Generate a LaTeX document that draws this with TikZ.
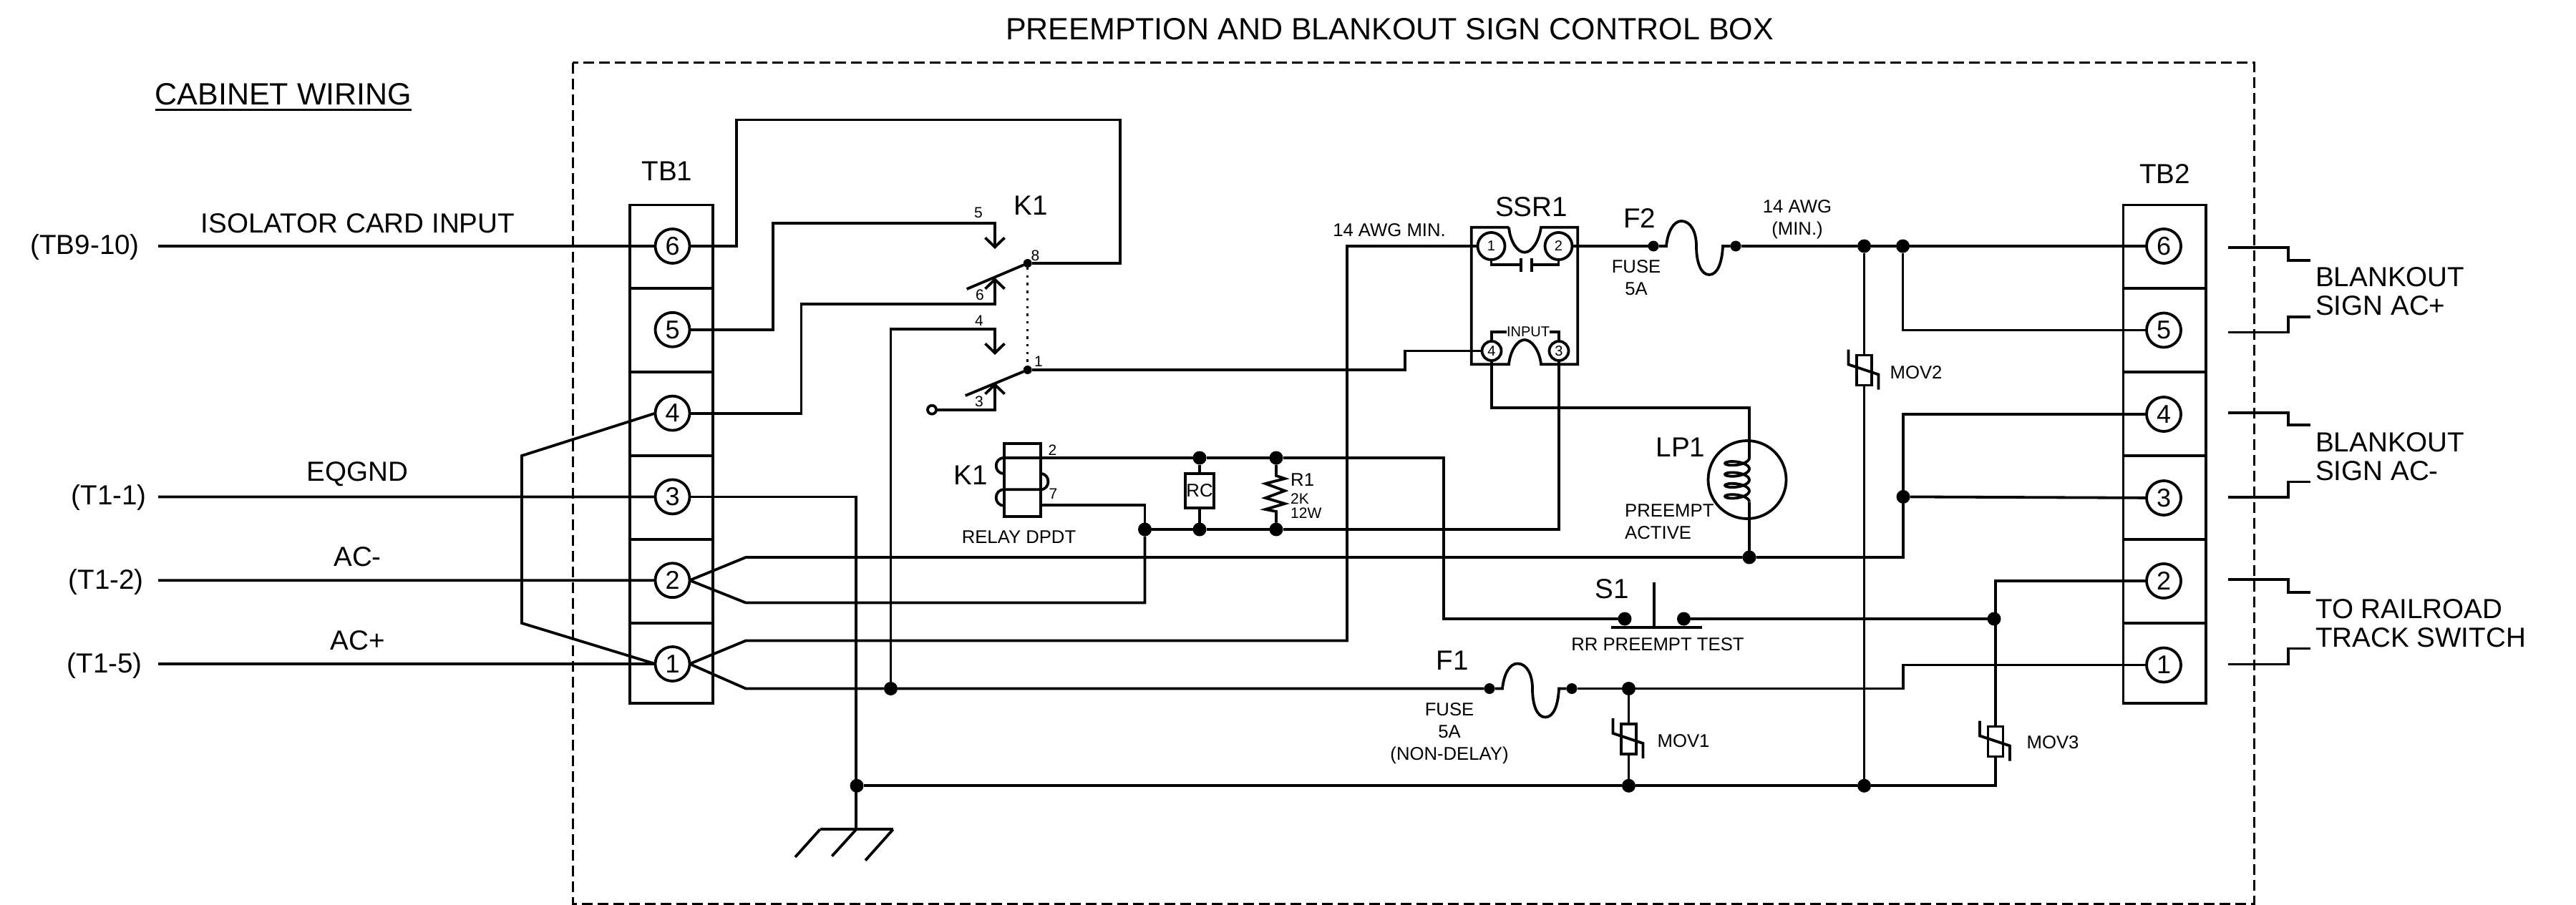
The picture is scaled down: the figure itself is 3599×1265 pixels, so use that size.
\documentclass[tikz,border=0pt]{standalone}
\usepackage{fontspec}
\setmainfont{Liberation Sans}
\usetikzlibrary{positioning,arrows.meta}

\newcommand{\fuselink}[2]{\draw[wire, shift={(#1.center)}] (#1) -- (18,0) .. controls (20,-20) and (28,-35) .. (39,-35) .. controls (52,-35) and (60,-20) .. (60,0) .. controls (60,22) and (66,40) .. (78,40) .. controls (90,40) and (96,22) .. (97,0) -- (#2);}
\newcommand{\movslash}[1]{\draw[wire, shift={(#1.center)}] (-22,-29) -- (-22,-8) -- (20,6) -- (20,27);}

\begin{document}
\begin{tikzpicture}[x=1pt,y=-1pt]
\tikzstyle{wire}=[line width=3.8pt]
\tikzstyle{frame}=[line width=3pt, dash pattern=on 15pt off 7pt]
\tikzstyle{contact}=[wire, -{Straight Barb[length=13pt,width=27pt]}]
\tikzstyle{term}=[circle, minimum size=48pt, inner sep=0pt, outer sep=0pt, draw=black, line width=3.8pt, font=\fontsize{36}{36}\selectfont]
\tikzstyle{ssrbig}=[term, minimum size=38pt, font=\fontsize{20}{20}\selectfont]
\tikzstyle{ssrsmall}=[term, minimum size=27pt, font=\fontsize{20}{20}\selectfont]
\tikzstyle{dot}=[circle, fill=black, minimum size=19pt, inner sep=0pt, outer sep=0pt]
\tikzstyle{smalldot}=[dot, minimum size=12pt]
\tikzstyle{fusedot}=[dot, minimum size=15pt]
\tikzstyle{movbody}=[rectangle, draw=black, line width=3.8pt, minimum width=21pt, minimum height=42pt, inner sep=0pt, outer sep=0pt]
\tikzstyle{big}=[inner sep=0pt, align=center, font=\fontsize{38.6}{40}\selectfont]
\tikzstyle{head}=[inner sep=0pt, font=\fontsize{43}{43}\selectfont]
\tikzstyle{note}=[inner sep=0pt, align=center, font=\fontsize{25.7}{31}\selectfont]
\tikzstyle{pin}=[inner sep=0pt, font=\fontsize{21}{21}\selectfont]
\useasboundingbox (0,0) rectangle (3599,1265);

% box and terminal strips
\draw[frame] (800,88) rectangle (3149,1263);
\draw[wire] (880,286.5) rectangle (996,983);
\draw[wire] (2966.5,286.5) rectangle (3082,983);
\foreach \y in {403,520,637,754,871} {
  \draw[wire] (880,\y) -- (996,\y);
  \draw[wire] (2966.5,\y) -- (3082,\y);
}

% texts
\node[head] (title) at (1941.5,41) {PREEMPTION AND BLANKOUT SIGN CONTROL BOX};
\node[head] (cab) at (396,132) {CABINET WIRING};
\draw[wire] ([yshift=-6pt]cab.south west) -- ([yshift=-6pt]cab.south east);
\node[big] (tb1) at (932,239) {TB1};
\node[big] (tb2) at (3024.5,243) {TB2};
\node[big] (isol) at (500,312) {ISOLATOR CARD INPUT};
\node[big] (eqgnd) at (499.5,662.5) {EQGND};
\node[big] (acm) at (499.5,778.5) {AC-};
\node[big] (acp) at (500,895) {AC+};
\node[big, anchor=east] (tb9) at (195,346) {(TB9-10)};
\node[big, anchor=east] (t11) at (205,696) {(T1-1)};
\node[big, anchor=east] (t12) at (201,813.5) {(T1-2)};
\node[big, anchor=east] (t15) at (199,930.5) {(T1-5)};
\node[big] (k1top) at (1440,287) {K1};
\node[big] (k1low) at (1356.5,664) {K1};
\node[big] (ssr) at (2139.5,289.5) {SSR1};
\node[big] (f2lab) at (2290.5,305.5) {F2};
\node[big] (f1lab) at (2029,923) {F1};
\node[big] (s1lab) at (2252,823) {S1};
\node[big] (lplab) at (2348,625) {LP1};
\node[big, anchor=west, align=left] (bkp) at (3235,407.5) {BLANKOUT\\SIGN AC+};
\node[big, anchor=west, align=left] (bkm) at (3235,638) {BLANKOUT\\SIGN AC-};
\node[big, anchor=west, align=left] (rail) at (3235,871.5) {TO RAILROAD\\TRACK SWITCH};
\node[note] (relay) at (1423.5,750.5) {RELAY DPDT};
\node[note] (awg1) at (1941,322) {14 AWG MIN.};
\node[note] (awg2) at (2511,307) {14 AWG\\(MIN.)};
\node[note] (fuse2) at (2286,388) {FUSE\\5A};
\node[note] (fuse1) at (2025,1025) {FUSE\\5A\\(NON-DELAY)};
\node[note] (rrtest) at (2316,901) {RR PREEMPT TEST};
\node[note, anchor=west, align=left] (active) at (2270,729.5) {PREEMPT\\ACTIVE};
\node[note] (mv1lab) at (2352,1036) {MOV1};
\node[note] (mv2lab) at (2677,521) {MOV2};
\node[note] (mv3lab) at (2868,1038) {MOV3};
\node[note] (rclab) at (1676,686) {RC};
\node[note, anchor=west] (r1lab) at (1803,670.5) {R1};
\node[pin, anchor=west] (r1k) at (1803,697) {2K};
\node[pin, anchor=west] (r1w) at (1803,717) {12W};
\node[pin, font=\fontsize{20}{20}\selectfont] (inp) at (2135,464) {INPUT};
\node[pin] (p5) at (1367,297.5) {5};
\node[pin] (p6) at (1369,412.5) {6};
\node[pin] (p8) at (1446.5,357) {8};
\node[pin] (p4) at (1368,448) {4};
\node[pin] (p3) at (1368,561) {3};
\node[pin] (p1) at (1451,505) {1};
\node[pin] (p2) at (1470.5,629) {2};
\node[pin] (p7) at (1471.5,690.5) {7};

% terminals
\node[term] (a6) at (939.5,344) {6};
\node[term] (a5) [below=68.8pt of a6] {5};
\node[term] (a4) [below=68.8pt of a5] {4};
\node[term] (a3) [below=68.8pt of a4] {3};
\node[term] (a2) [below=68.8pt of a3] {2};
\node[term] (a1) [below=68.8pt of a2] {1};
\node[term] (b6) at (3023,344) {6};
\node[term] (b5) [below=69.5pt of b6] {5};
\node[term] (b4) [below=69.5pt of b5] {4};
\node[term] (b3) [below=69pt of b4] {3};
\node[term] (b2) [below=68pt of b3] {2};
\node[term] (b1) [below=69.5pt of b2] {1};
\node[ssrbig] (s1) at (2083.5,344) {1};
\node[ssrbig] (s2) at (2177.5,344) {2};
\node[ssrsmall] (s4) at (2084,490.5) {4};
\node[ssrsmall] (s3) at (2178,490.5) {3};

% junctions
\node[dot] (jq) at (1599.5,740) {};
\node[dot] (rct) at (1676,640) {};
\node[dot] (rcb) at (1676,740) {};
\node[dot] (r1t) at (1783,640) {};
\node[dot] (r1b) at (1783,740) {};
\node[dot] (j2) at (1244.5,962.5) {};
\node[dot] (jg) at (1197,1098.3) {};
\node[dot] (m1t) at (2275.5,962.5) {};
\node[dot] (m1b) at (2275.5,1098.3) {};
\node[dot] (m2t) at (2604.5,344) {};
\node[dot] (m2b) at (2604.5,1098.3) {};
\node[dot] (j5) at (2658.5,344) {};
\node[dot] (j3) at (2659,694.4) {};
\node[dot] (lpj) at (2444,779) {};
\node[dot] (sa) at (2270,865) {};
\node[dot] (sb) at (2352.5,865) {};
\node[dot] (m3j) at (2786,865) {};
\node[fusedot] (f1a) at (2081,962.5) {};
\node[fusedot] (f1b) at (2196,962.5) {};
\node[fusedot] (f2a) at (2310,344) {};
\node[fusedot] (f2b) at (2425,344) {};
\node[smalldot] (k8) at (1435.7,368) {};
\node[smalldot] (k1) at (1435.7,517) {};
\node[circle, draw=black, line width=3.8pt, fill=white, minimum size=12pt, inner sep=0pt, outer sep=0pt] (k3o) at (1302,572.7) {};

% parts
\node[movbody] (mov1) at (2275.5,1033) {};
\node[movbody] (mov2) at (2604.5,517.5) {};
\node[movbody] (mov3) at (2788,1036.5) {};
\movslash{mov1}
\movslash{mov2}
\movslash{mov3}
\node[draw=black, line width=3.8pt, minimum width=40.7pt, minimum height=48.3pt, inner sep=0pt, outer sep=0pt] (rc) at (1676,685.8) {};
\node[draw=black, line width=3.8pt, minimum width=51pt, minimum height=101.7pt, inner sep=0pt, outer sep=0pt] (relbox) at (1428.2,670.8) {};
\node[circle, draw=black, line width=3.8pt, minimum size=109pt, inner sep=0pt, outer sep=0pt] (lp1) at (2441,670.5) {};
\coordinate (coilt) at (2444,640);
\coordinate (coilb) at (2444,701.6);
\draw[wire] plot[smooth, samples=97, domain=0:1440, variable=\t] ({2427+17*cos(\t)},{640+\t/23.4+6*sin(\t)});
\draw[wire] (2108,317.7) -- (2055.7,317.7) -- (2055.7,509.3) -- (2108,509.3) .. controls (2110,490) and (2120,475) .. (2130,475) .. controls (2140,475) and (2151,490) .. (2153,509.3) -- (2204.3,509.3) -- (2204.3,317.7) -- (2153,317.7) .. controls (2150,338) and (2140,352.7) .. (2130,352.7) .. controls (2120,352.7) and (2110,338) .. (2108,317.7);
\draw[wire] (s1) |- (2125,370);
\draw[wire] (2125,360.5) -- (2125,380);
\draw[wire] (2140,360.5) -- (2140,380);
\draw[wire] (s2) |- (2140,370);
\draw[wire] (s4) |- (inp.west);
\draw[wire] (s3) |- (inp.east);
\draw[wire] (1402.7,640) .. controls (1388,640) and (1388,662) .. (1402.7,662);
\draw[wire] (1453.7,662) .. controls (1468,662) and (1468,684.3) .. (1453.7,684.3) -- (1402.7,684.3) .. controls (1388,684.3) and (1388,706.7) .. (1402.7,706.7);

% relay contacts
\coordinate (k5t) at (1390,348);
\coordinate (k6t) at (1390,388);
\coordinate (k4t) at (1390,496);
\coordinate (k3t) at (1390,535);
\coordinate (arm8) at (1350.7,404);
\coordinate (arm1) at (1348.7,553);
\draw[wire] (k8) -- (arm8);
\draw[wire] (k1) -- (arm1);
\draw[line width=3.4pt, dash pattern=on 3.4pt off 7.3pt] (k8) -- (k1);
\draw[contact] (a5) -| (1080,312) -| (k5t);
\draw[contact] (a4) -| (1119.5,425) -| (k6t);
\draw[contact] (j2) |- (1390,459.6) -- (k4t);
\draw[contact] (k3o) -| (k3t);
\draw[wire] (a6) -| (1029,167.5) -| (1565,368) -- (k8);
\draw[wire] (k1) -| (1963,490.5) -- (s4);

% field wiring
\coordinate (in6) at (221,344);
\coordinate (in3) at (221,694.4);
\coordinate (in2) at (221,811.2);
\coordinate (in1) at (221,928);
\draw[wire] (in6) -- (a6);
\draw[wire] (in3) -- (a3);
\draw[wire] (in2) -- (a2);
\draw[wire] (in1) -- (a1);
\draw[wire] (a4.west) -- (729,637) -- (729,871) -- (a1.west);

% internal wiring
\draw[wire] (a2.east) -- (1042,779) -- (lpj) -- (2659,779) |- (b4);
\draw[wire] (j3) -- (b3);
\draw[wire] (a2.east) -- (1042,842.5) -| (jq);
\draw[wire] (jq) |- (1453.7,705.7);
\draw[wire] (jq) -- (rcb) -- (r1b);
\draw[wire] (1402.7,640) -- (rct) -- (r1t);
\draw[wire] (rct) -- (rc);
\draw[wire] (rc) -- (rcb);
\draw[wire] (r1t) -- (1783,665) -- (1795,669) -- (1768,676) -- (1795,686) -- (1768,696) -- (1795,704) -- (1768,712) -- (1783,715) -- (r1b);
\draw[wire] (r1t) -| (2017,865) -- (sa);
\draw[wire] (s3) |- (r1b);
\draw[wire] (s4) |- (2444,569.8) -- (coilt);
\draw[wire] (coilb) -- (lpj);
\draw[wire] (a1.east) -- (1042,895.5) -| (1882,344) -- (s1);
\draw[wire] (a1.east) -- (1042,962.5) -- (j2) -- (f1a);
\fuselink{f1a}{f1b}
\draw[wire] (f1b) -- (m1t) -- (2659,962.5) |- (b1);
\draw[wire] (m1t) -- (mov1);
\draw[wire] (mov1) -- (m1b);
\draw[wire] (s2) -- (f2a);
\fuselink{f2a}{f2b}
\draw[wire] (f2b) -- (m2t) -- (j5) -- (b6);
\draw[wire] (j5) |- (b5);
\draw[wire] (m2t) -- (mov2);
\draw[wire] (mov2) -- (m2b);
\draw[wire] (b2) -| (mov3);
\draw[wire] (mov3) |- (m2b);
\draw[wire] (m2b) -- (m1b) -- (jg);
\draw[wire] (sb) -- (m3j);

% switch S1
\coordinate (barl) at (2251,877);
\coordinate (barr) at (2378,877);
\coordinate (stem) at (2311,877);
\draw[wire] (barl) -- (barr);
\draw[wire] (stem) -- (2311,814);

% ground
\coordinate (gl) at (1145.7,1159.3);
\coordinate (gm) at (1196.3,1159.3);
\coordinate (gr) at (1247.7,1159.3);
\draw[wire] (a3) -| (gm);
\draw[wire] (gl) -- (gr);
\draw[wire] (gl) -- (1111,1198);
\draw[wire] (gm) -- (1162.3,1196.7);
\draw[wire] (gr) -- (1209,1202.7);

% leads leaving the box
\foreach \n/\ya/\yb in {p/345.8/363.8,q/464.4/442.6,r/576.6/594,s/695/673.4,t/810/827.6,u/928.5/906.5} {
  \coordinate (out\n) at (3113,\ya);
  \coordinate (lead\n) at (3228,\yb);
  \draw[wire] (out\n) -| (3196.7,\yb) -- (lead\n);
}
\end{tikzpicture}
\end{document}
